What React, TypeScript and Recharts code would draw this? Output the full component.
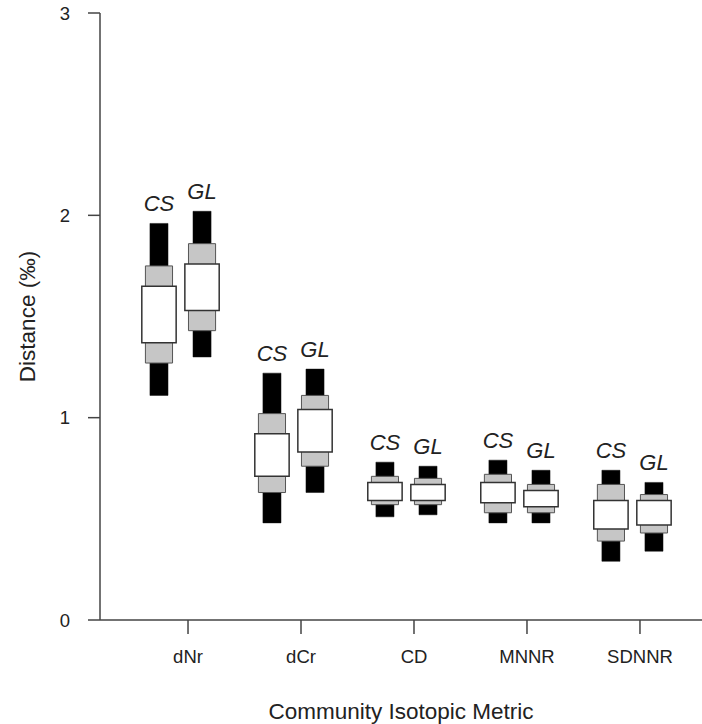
import {
  ComposedChart,
  ReferenceArea,
  Scatter,
  XAxis,
  YAxis,
} from "recharts";

const metrics = ["dNr", "dCr", "CD", "MNNR", "SDNNR"];
const yTicks = [0, 1, 2, 3];

// credible intervals: 95% (black), 75% (grey), 50% (white)
const csHi95 = [1.96, 1.22, 0.78, 0.79, 0.74];
const csHi75 = [1.75, 1.02, 0.71, 0.72, 0.67];
const csHi50 = [1.65, 0.92, 0.68, 0.68, 0.59];
const csLo50 = [1.37, 0.71, 0.59, 0.58, 0.45];
const csLo75 = [1.27, 0.63, 0.57, 0.53, 0.39];
const csLo95 = [1.11, 0.48, 0.51, 0.48, 0.29];

const glHi95 = [2.02, 1.24, 0.76, 0.74, 0.68];
const glHi75 = [1.86, 1.11, 0.7, 0.67, 0.62];
const glHi50 = [1.76, 1.04, 0.67, 0.64, 0.59];
const glLo50 = [1.53, 0.83, 0.59, 0.56, 0.47];
const glLo75 = [1.43, 0.76, 0.57, 0.53, 0.43];
const glLo95 = [1.3, 0.63, 0.52, 0.48, 0.34];

const FONT = '"Liberation Sans", Arial, Helvetica, sans-serif';
const AXIS = "#444";

type Group = {
  name: string;
  offset: number;
  hi95: number[];
  hi75: number[];
  hi50: number[];
  lo50: number[];
  lo75: number[];
  lo95: number[];
};

const groups: Group[] = [
  { name: "CS", offset: -0.257, hi95: csHi95, hi75: csHi75, hi50: csHi50, lo50: csLo50, lo75: csLo75, lo95: csLo95 },
  { name: "GL", offset: 0.124, hi95: glHi95, hi75: glHi75, hi50: glHi50, lo50: glLo50, lo75: glLo75, lo95: glLo95 },
];

const labelData = groups.flatMap((g) =>
  metrics.map((_, i) => ({ x: i + 1 + g.offset, y: g.hi95[i], label: g.name }))
);

function GroupLabel(props: any) {
  const { cx, cy, payload } = props;
  return (
    <text
      x={cx}
      y={cy - 12}
      textAnchor="middle"
      fontFamily={FONT}
      fontStyle="italic"
      fontSize={22}
      fill="#222"
    >
      {payload.label}
    </text>
  );
}

export default function App() {
  const boxes: any[] = [];
  groups.forEach((g) => {
    metrics.forEach((m, i) => {
      const c = i + 1 + g.offset;
      boxes.push(
        <ReferenceArea
          key={`${g.name}-${m}-95`}
          x1={c - 0.08}
          x2={c + 0.08}
          y1={g.lo95[i]}
          y2={g.hi95[i]}
          fill="#000"
          fillOpacity={1}
          stroke="#111"
          strokeWidth={0.5}
        />,
        <ReferenceArea
          key={`${g.name}-${m}-75`}
          x1={c - 0.12}
          x2={c + 0.12}
          y1={g.lo75[i]}
          y2={g.hi75[i]}
          fill="#c6c6c6"
          fillOpacity={1}
          stroke="#555"
          strokeWidth={1}
        />,
        <ReferenceArea
          key={`${g.name}-${m}-50`}
          x1={c - 0.152}
          x2={c + 0.152}
          y1={g.lo50[i]}
          y2={g.hi50[i]}
          fill="#fff"
          fillOpacity={1}
          stroke="#333"
          strokeWidth={1.5}
        />
      );
    });
  });

  return (
    <div style={{ position: "absolute", left: 0, top: 0, fontFamily: FONT }}>
      <ComposedChart
        width={702}
        height={724}
        margin={{ top: 13, right: 0, bottom: 0, left: 0 }}
      >
        <XAxis
          dataKey="x"
          type="number"
          domain={[0.221, 5.549]}
          ticks={[1, 2, 3, 4, 5]}
          tickFormatter={(v) => metrics[v - 1]}
          height={104}
          tickSize={14}
          tickMargin={16}
          stroke={AXIS}
          strokeWidth={1.5}
          tick={{ fontSize: 18.5, fill: "#222", fontFamily: FONT }}
          allowDataOverflow
          label={{
            value: "Community Isotopic Metric",
            position: "insideBottom",
            offset: 5,
            fontSize: 22.5,
            fill: "#222",
            fontFamily: FONT,
          }}
        />
        <YAxis
          dataKey="y"
          type="number"
          domain={[0, 3]}
          ticks={yTicks}
          width={100}
          tickSize={12}
          tickMargin={18}
          stroke={AXIS}
          strokeWidth={1.5}
          tick={{ fontSize: 18.5, fill: "#222", fontFamily: FONT }}
          label={{
            value: "Distance (‰)",
            angle: -90,
            position: "insideLeft",
            offset: 27,
            fontSize: 22.5,
            fill: "#222",
            fontFamily: FONT,
            style: { textAnchor: "middle" },
          }}
        />
        {boxes}
        <Scatter
          data={labelData}
          dataKey="y"
          shape={GroupLabel}
          isAnimationActive={false}
        />
      </ComposedChart>
    </div>
  );
}
